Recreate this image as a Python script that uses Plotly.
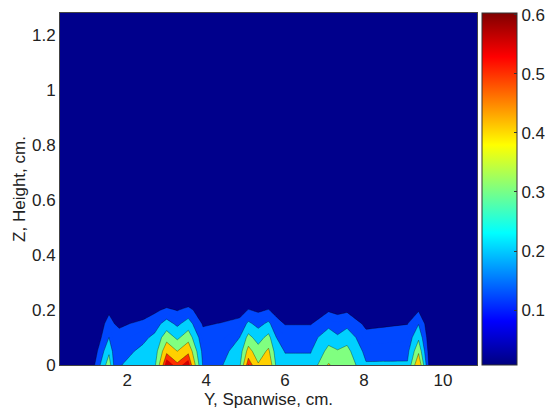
import plotly.graph_objects as go

# Spanwise positions (cm) of the measurement columns
span_y = [0.3, 1.15, 1.54, 1.68, 1.8, 2.4, 2.7, 3.0, 3.27, 3.55, 3.92, 4.4, 4.85, 5.07,
          5.32, 5.58, 5.78, 6.0, 6.65, 7.1, 7.33, 7.57, 8.05, 9.1, 9.38, 9.7, 10.86]
# Heights (cm) of the measurement rows (the first row is a zero pad below the wall)
height_z = [-0.1, 0, 0.05, 0.1, 0.15, 0.2, 0.25, 1.28]

# Values along each height row
val_pad = [0] * len(span_y)
val_h000 = [0, 0.08, 0.36, 0.17, 0.195, 0.24, 0.28, 0.6, 0.52, 0.59, 0.19, 0.195, 0.28, 0.56,
            0.41, 0.49, 0.28, 0.23, 0.23, 0.41, 0.36, 0.38, 0.21, 0.21, 0.5, 0, 0]
val_h005 = [0, 0.04, 0.28, 0.15, 0.165, 0.22, 0.25, 0.48, 0.40, 0.48, 0.17, 0.17, 0.245, 0.44,
            0.34, 0.42, 0.245, 0.195, 0.195, 0.33, 0.31, 0.33, 0.17, 0.175, 0.38, 0, 0]
val_h010 = [0, 0, 0.20, 0.125, 0.13, 0.18, 0.22, 0.36, 0.28, 0.36, 0.135, 0.14, 0.20, 0.33,
            0.26, 0.33, 0.20, 0.16, 0.16, 0.26, 0.21, 0.26, 0.13, 0.14, 0.28, 0, 0]
val_h015 = [0, 0, 0.14, 0.10, 0.085, 0.12, 0.16, 0.24, 0.18, 0.245, 0.09, 0.105, 0.13, 0.22,
            0.17, 0.22, 0.135, 0.095, 0.095, 0.17, 0.16, 0.17, 0.08, 0.098, 0.195, 0, 0]
val_h020 = [0, 0, 0.08, 0.04, 0.03, 0.05, 0.08, 0.12, 0.095, 0.13, 0.04, 0.05, 0.06, 0.105,
            0.085, 0.105, 0.065, 0.04, 0.04, 0.09, 0.07, 0.085, 0.03, 0.04, 0.09, 0, 0]
val_h025 = [0] * len(span_y)
val_h128 = [0] * len(span_y)

x_ticks = [2, 4, 6, 8, 10]
y_ticks = [0, 0.2, 0.4, 0.6, 0.8, 1.0, 1.2]
y_ticktext = ["0", "0.2", "0.4", "0.6", "0.8", "1", "1.2"]
cb_ticks = [0.1, 0.2, 0.3, 0.4, 0.5, 0.6]

grid = [val_pad, val_h000, val_h005, val_h010, val_h015, val_h020, val_h025, val_h128]

NAVY = "#00008c"
BLUE = "#0048ff"
CYAN = "#00d0ff"
GREEN = "#80ff80"
YELLOW = "#ffd000"
ORANGE = "#ff3000"
RED = "#d00000"

band_scale = [
    [0.0, NAVY], [0.05, NAVY],
    [0.05, BLUE], [0.25, BLUE],
    [0.25, CYAN], [0.45, CYAN],
    [0.45, GREEN], [0.65, GREEN],
    [0.65, YELLOW], [0.85, YELLOW],
    [0.85, ORANGE], [0.95, ORANGE],
    [0.95, RED], [1.0, RED],
]

jet = [[0, "#000080"], [0.125, "#0000ff"], [0.375, "#00ffff"],
       [0.625, "#ffff00"], [0.875, "#ff0000"], [1, "#800000"]]

FONT = "Liberation Sans, Arial, sans-serif"
TXT = "#222222"

fig = go.Figure()
fig.add_trace(go.Contour(
    x=span_y, y=height_z, z=grid,
    contours=dict(start=0.1, end=0.55, size=0.05, coloring="fill", showlines=False),
    colorscale=band_scale, showscale=False, line=dict(width=0, smoothing=0),
    hoverinfo="skip", showlegend=False,
))
fig.add_trace(go.Contour(
    x=span_y, y=height_z, z=grid,
    contours=dict(start=0.1, end=0.5, size=0.1, coloring="none"),
    line=dict(color="rgba(0,0,0,0.55)", width=0.6, smoothing=0),
    showscale=False, hoverinfo="skip", showlegend=False,
))
fig.add_trace(go.Scatter(
    x=[None], y=[None], mode="markers", showlegend=False, hoverinfo="skip",
    marker=dict(color=[0.3], colorscale=jet, cmin=0.007, cmax=0.603, showscale=True,
                colorbar=dict(x=1.012, xanchor="left", xpad=0, ypad=0, y=0.5, yanchor="middle",
                              len=1, lenmode="fraction", thickness=35,
                              outlinecolor="#333", outlinewidth=1,
                              tickvals=cb_ticks, ticks="inside", ticklen=3, tickcolor="#333",
                              tickfont=dict(family=FONT, size=17, color=TXT))),
))

fig.update_layout(
    width=545, height=410, showlegend=False,
    margin=dict(l=60, r=68, t=13, b=45, autoexpand=False),
    paper_bgcolor="white", plot_bgcolor=NAVY,
    font=dict(family=FONT, size=17, color=TXT),
    xaxis=dict(range=[0.3, 10.86], tickvals=x_ticks, showgrid=False, zeroline=False,
               showline=True, linecolor="#444", linewidth=1, mirror=True, ticks="",
               title=dict(text="Y, Spanwise, cm.", standoff=3, font=dict(size=17))),
    yaxis=dict(range=[0, 1.28], tickvals=y_ticks, ticktext=y_ticktext, showgrid=False,
               zeroline=False, showline=True, linecolor="#444", linewidth=1, mirror=True,
               ticks="", title=dict(text="Z, Height, cm.", standoff=2, font=dict(size=17))),
)

fig.write_html("out.html")
